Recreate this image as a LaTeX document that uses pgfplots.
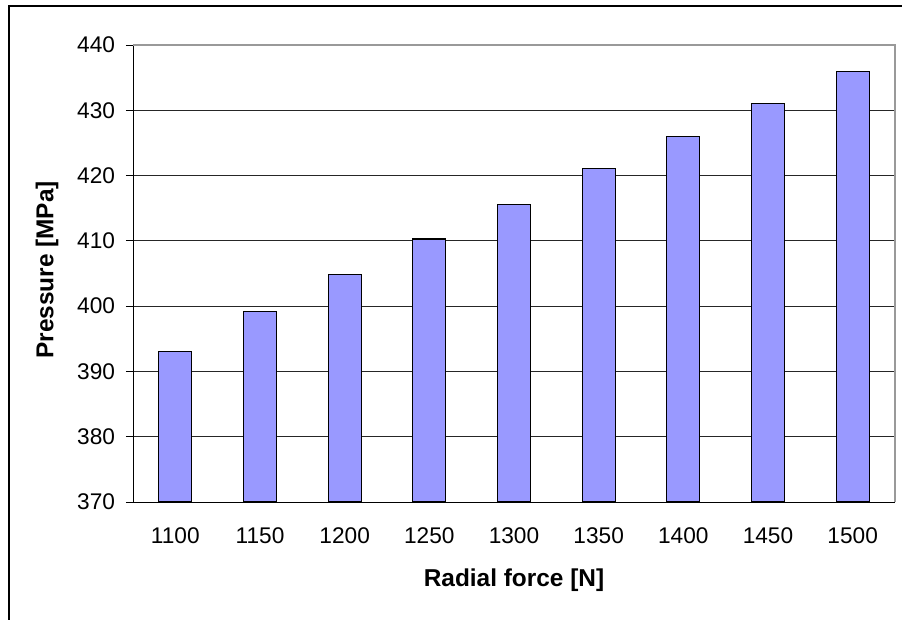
\documentclass[border=0pt]{standalone}
\usepackage{fontspec}
\setmainfont{Liberation Sans}
\usepackage{pgfplots}
\pgfplotsset{compat=1.18}
\definecolor{barblue}{HTML}{9999FF}
\begin{document}
\begin{tikzpicture}
\useasboundingbox (0,0) rectangle (676.5pt,464.25pt);
\draw[line width=1.4pt] (6.75pt,-2pt) -- (6.75pt,459.75pt) -- (680pt,459.75pt);
\begin{axis}[
  at={(99.75pt,87.75pt)}, anchor=south west,
  scale only axis, width=571.5pt, height=342.75pt,
  xmin=-0.5, xmax=8.5, ymin=370, ymax=440,
  ytick={370,380,...,440},
  xtick={0,...,8},
  xticklabels={1100,1150,1200,1250,1300,1350,1400,1450,1500},
  minor xtick={-0.5,0.5,...,8.5},
  axis x line*=bottom, axis y line*=left,
  axis line style={black, line width=0.75pt, -},
  tick align=outside,
  xtick style={draw=none},
  minor tick length=5pt,
  major tick length=5.25pt,
  minor x tick style={black, line width=0.75pt},
  y tick style={black, line width=0.75pt},
  ymajorgrids, grid style={black!85, line width=0.75pt},
  /pgf/number format/assume math mode=true,
  ticklabel style={font=\fontsize{17pt}{20pt}\selectfont, inner sep=0pt},
  xticklabel shift=13.5pt,
  yticklabel shift=8pt,
  xlabel={Radial force [N]},
  ylabel={Pressure [MPa]},
  label style={font=\fontsize{18.3pt}{21pt}\selectfont\bfseries},
  xlabel style={at={(axis description cs:0.5,-0.171)}, anchor=center},
  ylabel style={at={(axis description cs:-0.1129,0.508)}, anchor=center, rotate=0},
  clip=false,
]
\addplot[ybar, bar width=24.75pt, fill=barblue, draw=black, line width=0.9pt]
  coordinates {(0,393.1) (1,399.2) (2,404.8) (3,410.3) (4,415.6) (5,421.1) (6,426.0) (7,431.1) (8,435.9)};
\draw[black!40, line width=0.9pt] (rel axis cs:0,1) -- (rel axis cs:1,1) -- (rel axis cs:1,0);
\end{axis}
\end{tikzpicture}
\end{document}
